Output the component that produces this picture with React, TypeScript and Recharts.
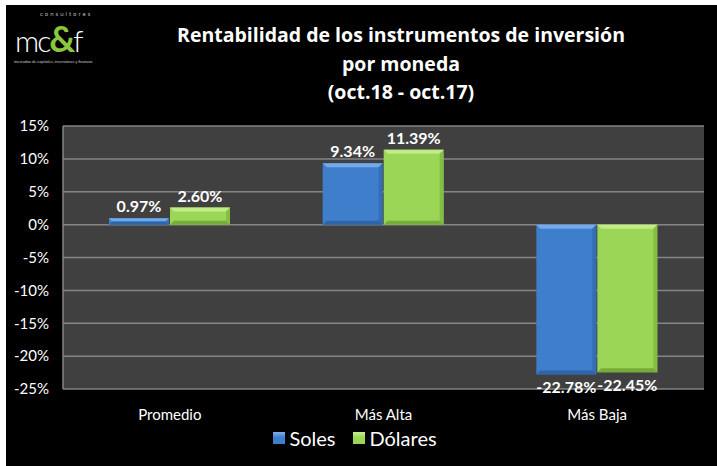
import React from 'react'
import {
  BarChart, Bar, XAxis, YAxis, CartesianGrid, Legend, LabelList,
} from 'recharts'

const categories = ['Promedio', 'Más Alta', 'Más Baja']
const soles = [0.97, 9.34, -22.78]
const dolares = [2.6, 11.39, -22.45]
const yTicks = [15, 10, 5, 0, -5, -10, -15, -20, -25]
const titleLines = [
  'Rentabilidad de los instrumentos de inversión',
  'por moneda',
  '(oct.18 - oct.17)',
]

const data = categories.map((name, i) => ({
  name,
  soles: soles[i],
  dolares: dolares[i],
}))

const FONT = 'Lato, "Open Sans", sans-serif'
const BLUE = '#3f7ecb'
const GREEN = '#9bd656'

function BevelBar(props: any) {
  const { x, y, width, height, fill, light, dark } = props
  if (width == null || height == null) return null
  const top = height < 0 ? y + height : y
  const h = Math.abs(height)
  const b = Math.min(4, h / 2)
  return (
    <g>
      <rect x={x} y={top} width={width} height={h} fill={fill} />
      <polygon
        points={`${x},${top} ${x + width},${top} ${x + width - b},${top + b} ${x + b},${top + b}`}
        fill={light}
      />
      <polygon
        points={`${x},${top + h} ${x + width},${top + h} ${x + width - b},${top + h - b} ${x + b},${top + h - b}`}
        fill={dark}
      />
      <polygon
        points={`${x + width},${top} ${x + width},${top + h} ${x + width - b},${top + h - b} ${x + width - b},${top + b}`}
        fill={dark}
        opacity={0.6}
      />
    </g>
  )
}

function ValueLabel(props: any) {
  const { x, y, width, height, value } = props
  const neg = value < 0
  const cx = x + width / 2
  const ty = neg ? Math.max(y, y + height) + 19 : Math.min(y, y + height) - 6
  return (
    <text
      x={cx}
      y={ty}
      textAnchor="middle"
      fill="#fff"
      fontSize={16}
      fontWeight={700}
      fontFamily={FONT}
    >
      {value.toFixed(2)}%
    </text>
  )
}

function LegendContent() {
  const items = [
    { label: 'Soles', color: BLUE, hi: '#7fb0ec' },
    { label: 'Dólares', color: GREEN, hi: '#c8f090' },
  ]
  return (
    <div style={{ display: 'flex', justifyContent: 'center', gap: 18, fontFamily: FONT }}>
      {items.map((it) => (
        <div key={it.label} style={{ display: 'flex', alignItems: 'center', gap: 4 }}>
          <span
            style={{
              width: 12,
              height: 12,
              background: `linear-gradient(${it.hi}, ${it.color} 45%)`,
              display: 'inline-block',
            }}
          />
          <span style={{ color: '#fff', fontSize: 20 }}>{it.label}</span>
        </div>
      ))}
    </div>
  )
}

export default function App() {
  return (
    <div style={{ position: 'absolute', left: 0, top: 0, width: 717, height: 466, background: '#fff' }}>
      <div style={{ position: 'absolute', left: 6, top: 5, width: 711, height: 461, background: '#000' }}>
        {/* logo */}
        <div style={{ position: 'absolute', left: 34, top: 5, color: '#bbb', fontSize: 6, lineHeight: '8px', letterSpacing: 2, fontFamily: FONT }}>
          consultores
        </div>
        <div style={{ position: 'absolute', left: 9, top: 17, fontFamily: FONT, fontSize: 30, lineHeight: '32px', color: '#fff', fontWeight: 300, letterSpacing: -2 }}>
          mc<span style={{ color: '#8cc63f', fontSize: 36, fontWeight: 700 }}>&amp;</span>f
        </div>
        <div style={{ position: 'absolute', left: 8, top: 54, color: '#ccc', fontSize: 4, lineHeight: '5px', fontFamily: FONT, whiteSpace: 'nowrap' }}>
          mercados de capitales, inversiones y finanzas
        </div>
        {/* title */}
        <div style={{ position: 'absolute', left: 120, width: 550, top: 16, textAlign: 'center', color: '#fff', fontFamily: '"Open Sans", sans-serif', fontWeight: 700, fontSize: 19.5, lineHeight: '28.5px' }}>
          {titleLines.map((t) => <div key={t}>{t}</div>)}
        </div>
        <BarChart
          width={711}
          height={461}
          data={data}
          margin={{ top: 121, right: 13, left: 0, bottom: 11 }}
          barSize={60}
          barGap={1}
        >
          <CartesianGrid vertical={false} stroke="#858585" strokeWidth={1.5} fill="#404040" />
          <XAxis
            dataKey="name"
            axisLine={false}
            tickLine={false}
            height={37}
            tickMargin={14}
            tick={{ fill: '#fff', fontSize: 15, fontFamily: FONT }}
          />
          <YAxis
            width={57}
            domain={[-25, 15]}
            ticks={yTicks}
            interval={0}
            axisLine={{ stroke: '#858585', strokeWidth: 1.5 }}
            tickLine={false}
            tickSize={0}
            tickMargin={14}
            tickFormatter={(v: number) => `${v}%`}
            tick={{ fill: '#fff', fontSize: 15, fontFamily: FONT }}
          />
          <Legend verticalAlign="bottom" height={29} content={<LegendContent />} />
          <Bar
            dataKey="soles"
            name="Soles"
            fill={BLUE}
            isAnimationActive={false}
            shape={(p: any) => <BevelBar {...p} fill={BLUE} light="#74a9ea" dark="#2e64a8" />}
          >
            <LabelList dataKey="soles" content={<ValueLabel />} />
          </Bar>
          <Bar
            dataKey="dolares"
            name="Dólares"
            fill={GREEN}
            isAnimationActive={false}
            shape={(p: any) => <BevelBar {...p} fill={GREEN} light="#c1ec88" dark="#76ad3a" />}
          >
            <LabelList dataKey="dolares" content={<ValueLabel />} />
          </Bar>
        </BarChart>
      </div>
    </div>
  )
}
